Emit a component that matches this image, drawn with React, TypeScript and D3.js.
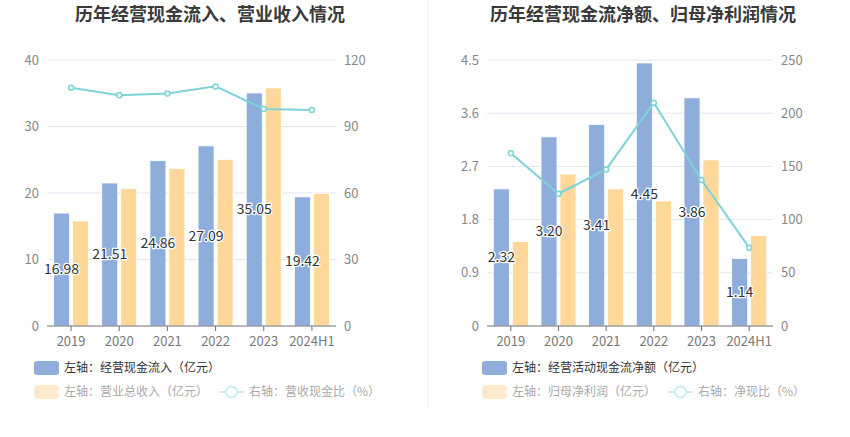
import { useEffect } from "react";
import * as d3 from "d3";

// 年份
const years = ["2019", "2020", "2021", "2022", "2023", "2024H1"];

// 左图：经营现金流入、营业总收入（亿元），营收现金比（%）
const cashInflow = [16.98, 21.51, 24.86, 27.09, 35.05, 19.42];
const revenue = [15.8, 20.65, 23.7, 25.06, 35.8, 19.95];
const revenueCashRatio = [107.5, 104.1, 104.9, 108.1, 97.9, 97.4];

// 右图：经营活动现金流净额、归母净利润（亿元），净现比（%）
const netCashFlow = [2.32, 3.2, 3.41, 4.45, 3.86, 1.14];
const netProfit = [1.43, 2.57, 2.32, 2.115, 2.81, 1.53];
const netCashRatio = [162.3, 124.3, 147.2, 209.8, 137.3, 73.6];

// 刻度
const leftTicksA = [0, 10, 20, 30, 40];
const rightTicksA = [0, 30, 60, 90, 120];
const leftTicksB = [0, 0.9, 1.8, 2.7, 3.6, 4.5];
const rightTicksB = [0, 50, 100, 150, 200, 250];

const BLUE = "#8EADDA";
const ORANGE = "#FFD899";
const LINE = "#7ED3D8";
const FONT = "'Noto Sans CJK SC', 'Noto Sans', sans-serif";

type ChartProps = {
  title: string;
  cx: number;
  x0: number;
  x1: number;
  bars: number[];
  bars2: number[];
  ratio: number[];
  lTicks: number[];
  rTicks: number[];
  legend: [string, string, string];
  legendX: number;
  legendLineX: number;
};

function Chart(p: ChartProps) {
  const top = 60;
  const bottom = 326;
  const x = d3.scaleBand().domain(years).range([p.x0, p.x1]).padding(0);
  const yL = d3
    .scaleLinear()
    .domain([0, p.lTicks[p.lTicks.length - 1]])
    .range([bottom, top]);
  const yR = d3
    .scaleLinear()
    .domain([0, p.rTicks[p.rTicks.length - 1]])
    .range([bottom, top]);
  const cx = (d: string) => x(d)! + x.bandwidth() / 2;
  const line = d3
    .line<number>()
    .x((_, i) => cx(years[i]))
    .y((d) => yR(d));

  return (
    <g fontFamily={FONT}>
      <text
        x={p.cx}
        y={21}
        textAnchor="middle"
        fontSize={18}
        fontWeight="bold"
        fill="#3a3a3a"
      >
        {p.title}
      </text>

      {/* 网格线与刻度 */}
      {p.lTicks.map((t, i) => (
        <g key={i}>
          {i > 0 && (
            <line
              x1={p.x0}
              x2={p.x1}
              y1={yL(t)}
              y2={yL(t)}
              stroke="#E0E6F1"
            />
          )}
          <text
            x={p.x0 - 8}
            y={yL(t)}
            dy="0.35em"
            textAnchor="end"
            fontSize={13}
            fill="#888"
          >
            {t}
          </text>
        </g>
      ))}
      {p.rTicks.map((t, i) => (
        <text
          key={i}
          x={p.x1 + 8}
          y={yR(t)}
          dy="0.35em"
          textAnchor="start"
          fontSize={13}
          fill="#888"
        >
          {t}
        </text>
      ))}

      {/* 柱 */}
      {years.map((d, i) => (
        <g key={d}>
          <rect
            x={cx(d) - 17.5}
            y={yL(p.bars[i])}
            width={16}
            height={bottom - yL(p.bars[i])}
            fill={BLUE}
            stroke="#fff"
            strokeWidth={0.8}
          />
          <rect
            x={cx(d) + 1.5}
            y={yL(p.bars2[i])}
            width={16}
            height={bottom - yL(p.bars2[i])}
            fill={ORANGE}
            stroke="#fff"
            strokeWidth={0.8}
          />
        </g>
      ))}

      {/* x 轴 */}
      <line x1={p.x0} x2={p.x1} y1={bottom} y2={bottom} stroke="#6E7079" />
      {years.map((d) => (
        <g key={d}>
          <line
            x1={cx(d)}
            x2={cx(d)}
            y1={bottom}
            y2={bottom + 5}
            stroke="#6E7079"
          />
          <text
            x={cx(d)}
            y={bottom + 20}
            textAnchor="middle"
            fontSize={13}
            fill="#777"
          >
            {d}
          </text>
        </g>
      ))}

      {/* 比率折线 */}
      <path d={line(p.ratio)!} fill="none" stroke={LINE} strokeWidth={2} />
      {p.ratio.map((v, i) => (
        <circle
          key={i}
          cx={cx(years[i])}
          cy={yR(v)}
          r={2.5}
          fill="#fff"
          stroke={LINE}
          strokeWidth={1.5}
        />
      ))}

      {/* 数据标签 */}
      {years.map((d, i) => (
        <text
          key={d}
          x={cx(d) - 9.5}
          y={(yL(p.bars[i]) + bottom) / 2}
          dy="0.35em"
          textAnchor="middle"
          fontSize={14}
          fill="#333"
          stroke="#fff"
          strokeWidth={2.5}
          paintOrder="stroke"
        >
          {p.bars[i].toFixed(2)}
        </text>
      ))}

      {/* 图例 */}
      <rect
        x={p.legendX}
        y={361}
        width={25}
        height={14}
        rx={3}
        fill={BLUE}
      />
      <text x={p.legendX + 30} y={368} dy="0.35em" fontSize={12} fill="#333">
        {p.legend[0]}
      </text>
      <rect
        x={p.legendX}
        y={385}
        width={25}
        height={14}
        rx={3}
        fill="#FFEBCC"
      />
      <text x={p.legendX + 30} y={392} dy="0.35em" fontSize={12} fill="#aaa">
        {p.legend[1]}
      </text>
      <line
        x1={p.legendLineX}
        x2={p.legendLineX + 25}
        y1={392}
        y2={392}
        stroke="#C6EEF0"
        strokeWidth={2}
      />
      <circle
        cx={p.legendLineX + 12.5}
        cy={392}
        r={5.5}
        fill="#fff"
        stroke="#C6EEF0"
        strokeWidth={2}
      />
      <text
        x={p.legendLineX + 30}
        y={392}
        dy="0.35em"
        fontSize={12}
        fill="#aaa"
      >
        {p.legend[2]}
      </text>
    </g>
  );
}

export default function App() {
  useEffect(() => {
    document.body.style.margin = "0";
  }, []);

  return (
    <svg
      width={850}
      height={437}
      style={{ position: "absolute", left: 0, top: 0, background: "#fff" }}
    >
      <Chart
        title="历年经营现金流入、营业收入情况"
        cx={210}
        x0={47}
        x1={336}
        bars={cashInflow}
        bars2={revenue}
        ratio={revenueCashRatio}
        lTicks={leftTicksA}
        rTicks={rightTicksA}
        legend={[
          "左轴：经营现金流入（亿元）",
          "左轴：营业总收入（亿元）",
          "右轴：营收现金比（%）",
        ]}
        legendX={34}
        legendLineX={219}
      />
      <line x1={428} x2={428} y1={0} y2={407} stroke="#EEEEEE" />
      <Chart
        title="历年经营现金流净额、归母净利润情况"
        cx={643}
        x0={487}
        x1={773}
        bars={netCashFlow}
        bars2={netProfit}
        ratio={netCashRatio}
        lTicks={leftTicksB}
        rTicks={rightTicksB}
        legend={[
          "左轴：经营活动现金流净额（亿元）",
          "左轴：归母净利润（亿元）",
          "右轴：净现比（%）",
        ]}
        legendX={482}
        legendLineX={668}
      />
    </svg>
  );
}
